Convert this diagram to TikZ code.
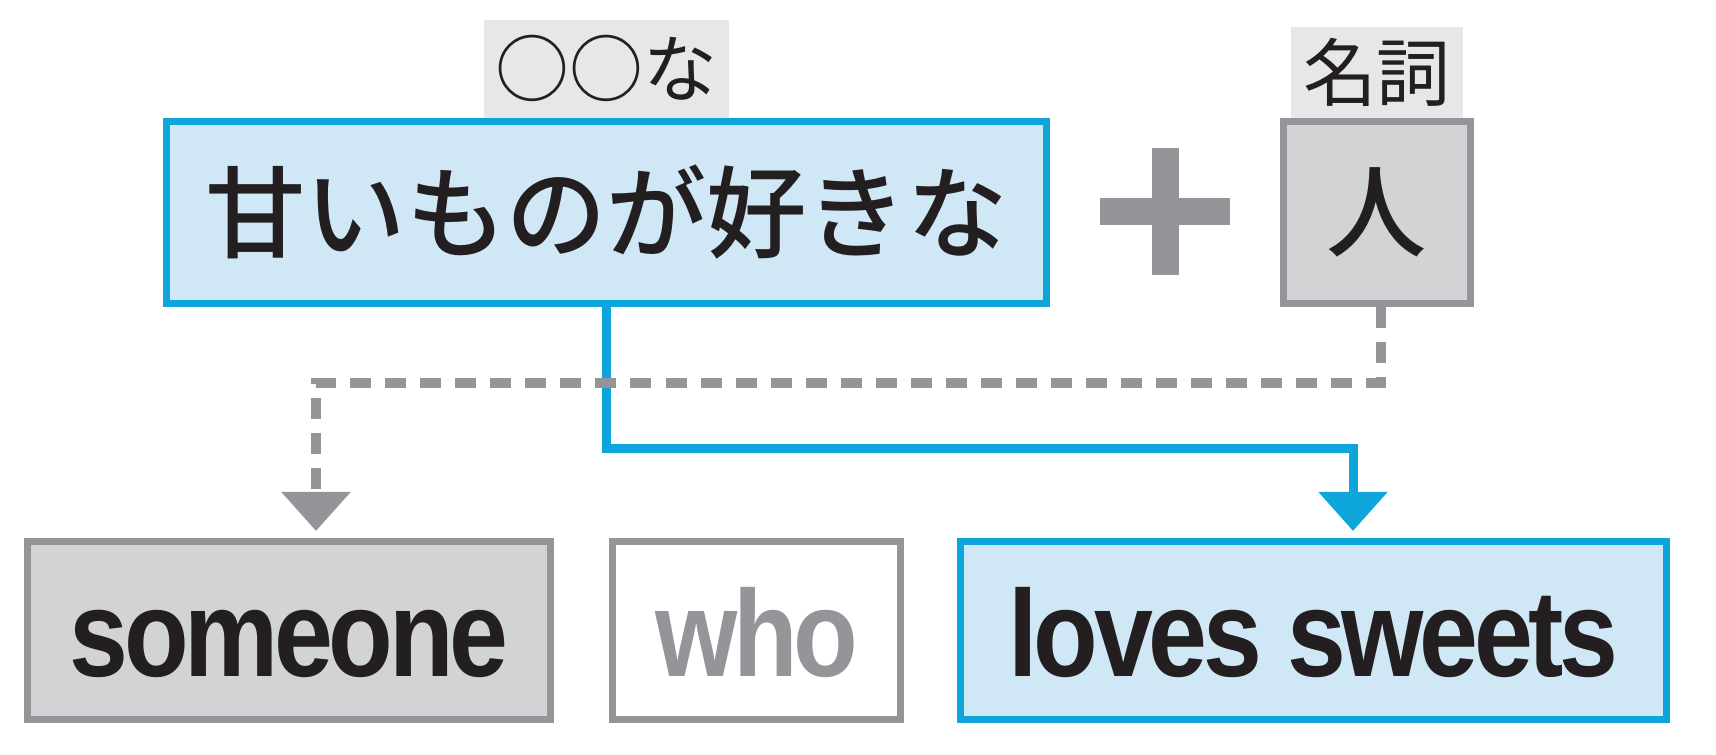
\documentclass[tikz,border=0pt]{standalone}
\usepackage{fontspec}
\usetikzlibrary{positioning, arrows.meta}

\newfontfamily\jpfont{Noto Sans CJK JP}[BoldFont = {Noto Sans CJK JP Medium}]
\newfontfamily\enfont{Liberation Sans}[FakeStretch = 0.86, LetterSpace = -3.5]

\definecolor{skyline}{RGB}{14,165,219}
\definecolor{skyfill}{RGB}{208,231,245}
\definecolor{greyline}{RGB}{147,149,152}
\definecolor{greyfill}{RGB}{209,211,212}
\definecolor{tagfill}{RGB}{230,231,232}
\definecolor{ink}{RGB}{35,31,32}

\begin{document}
\begin{tikzpicture}[
                x = 0.01cm, y = -0.01cm, % one unit per pixel, y down
                shorten > = 0.7mm, % stop just above the box
                line width = 0.7mm % box line style
            ]

            \tikzstyle{bluebox}=[draw = skyline, fill = skyfill, text = ink,
            inner sep = 0pt]
            \tikzstyle{greybox}=[draw = greyline, fill = greyfill, text = ink,
            inner sep = 0pt]
            \tikzstyle{whitebox}=[draw = greyline, fill = white, text = greyline,
            inner sep = 0pt]
            \tikzstyle{tag}=[fill = tagfill, text = ink, inner sep = 0pt,
            outer sep = 0pt, font = \jpfont\fontsize{21}{21}\selectfont]
            \tikzstyle{jpword}=[font = \jpfont\bfseries\fontsize{28.5}{28.5}\selectfont]
            \tikzstyle{enword}=[font = \enfont\bfseries\fontsize{35}{35}\selectfont,
            text height = 1cm, text depth = 0.08cm]
            \tikzstyle{bluearrow}=[draw = skyline, line width = 0.9mm,
            arrows = {-Triangle[width = 6.7mm, length = 3.9mm, fill = skyline]}]
            \tikzstyle{greydash}=[draw = greyline, line width = 0.95mm,
            dash pattern = on 2.1mm off 1.4mm,
            arrows = {-Triangle[width = 6.7mm, length = 3.9mm, fill = greyline]}]

            \useasboundingbox (0,0) rectangle (1716,754);

            \node (phrase) [bluebox, jpword, minimum width = 8.8cm,
            minimum height = 1.82cm] at (606.5,212.5) {甘いものが好きな};
            \node (adj) [tag, minimum width = 2.45cm, minimum height = 0.98cm,
            above = 0pt of phrase] {○○な};
            \node (person) [greybox, jpword, minimum width = 1.86cm,
            minimum height = 1.82cm, right = 2.3cm of phrase] {人};
            \node (noun) [tag, minimum width = 1.72cm, minimum height = 0.91cm,
            above = 0pt of person] {名詞};

            % plus sign
            \fill[greyline] (1152,148) rectangle (1179,275);
            \fill[greyline] (1100,198) rectangle (1230,225);

            \node (someone) [greybox, enword, minimum width = 5.23cm,
            minimum height = 1.78cm] at (289,630.5) {someone};
            \node (who) [whitebox, enword, minimum width = 2.88cm,
            minimum height = 1.78cm, right = 0.55cm of someone] {who};
            \node (loves) [bluebox, enword, minimum width = 7.05cm,
            minimum height = 1.78cm, right = 0.53cm of who] {loves sweets};

            \coordinate (bend1) at (1353,448);
            \coordinate (bend2) at (316,383);

            \draw[bluearrow] (phrase.south) |- (bend1) -- (bend1 |- loves.north);
            \draw[greydash] (person.south -| 1381,0) |- (bend2)
            -- (bend2 |- someone.north);

        \end{tikzpicture}
\end{document}
